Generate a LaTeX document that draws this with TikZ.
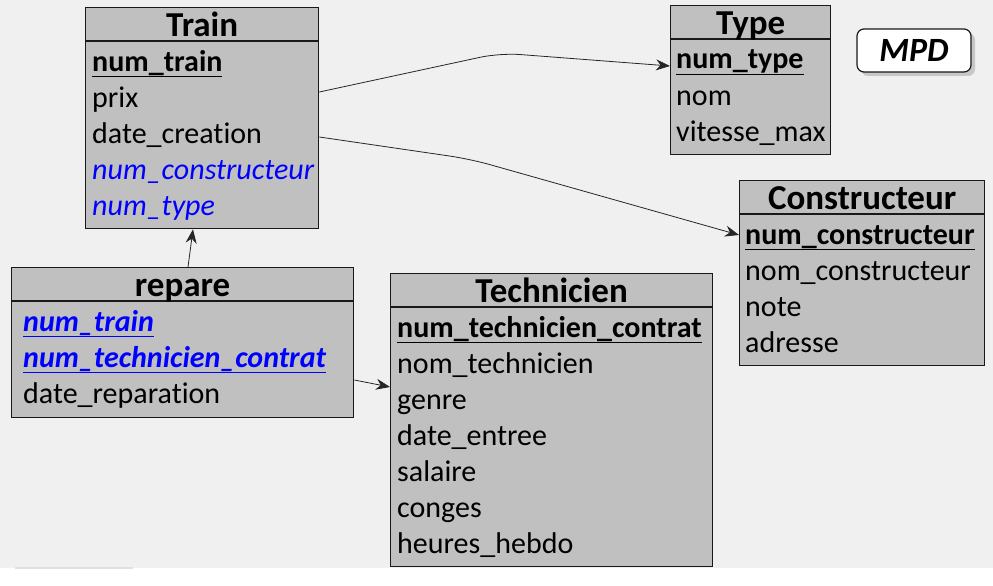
\documentclass[tikz,border=0pt]{standalone}
\usepackage{fontspec}
\setmainfont{Carlito}[Ligatures=NoCommon]
\usetikzlibrary{arrows.meta,   % arrow tips
                shadows}       % shadow of the MPD box

\definecolor{bggray}{HTML}{F0F0F0}
\definecolor{tablegray}{HTML}{C0C0C0}
\definecolor{fkblue}{HTML}{0000FF}

% primary key: text with a rule under it
\newcommand\pk[1]{\setbox0\hbox{#1}\rlap{\rule[-0.21em]{\wd0}{1.3pt}}\box0}

\tikzset{
  tablebox/.style={draw=black!90, line width=1.3pt, fill=tablegray, anchor=north west, inner sep=0pt},
  tableline/.style={draw=black!90, line width=1.3pt},
  tabletitle/.style={font=\fontsize{35}{40}\selectfont\bfseries, anchor=base, inner sep=0pt},
  field/.style={font=\fontsize{30}{36}\selectfont, anchor=base west, inner sep=0pt},
  conn/.style={-{Stealth[length=14pt,width=11pt]}, line width=0.8pt, draw=black!85},
  mpdbox/.style={draw=black!90, line width=1.2pt, fill=white, rounded corners=7pt,
                 minimum width=114pt, minimum height=43pt,
                 drop shadow={shadow xshift=4pt, shadow yshift=-4pt, fill=black!22, opacity=1},
                 font=\fontsize{34}{38}\selectfont\bfseries\itshape},
}

\begin{document}
\begin{tikzpicture}[x=1pt, y=-1pt]
        \useasboundingbox (0,0) rectangle (993,586);
        \fill[bggray] (0,0) rectangle (993,568);
        \fill[white] (0,568) rectangle (993,586);
        \fill[black!12] (15,567) rectangle (133,569);

        % tables
        \node[tablebox, minimum width=233pt, minimum height=221pt] (train) at (85,7) {};
        \draw[tableline] ([yshift=-34pt]train.north west) -- ([yshift=-34pt]train.north east);
        \node[tabletitle] (train-title) at ([yshift=-29.5pt]train.north) {Train};
        \foreach \txt [count=\i] in {{\pk{\textbf{num\_train}}}, prix, date\_creation,
                                     {\color{fkblue}\itshape num\_constructeur}, {\color{fkblue}\itshape num\_type}}
                \node[field] (train-\i) at ([xshift=7pt, yshift={(-64-36*(\i-1))*1pt}]train.north west) {\txt};

        \node[tablebox, minimum width=160pt, minimum height=149pt] (type) at (670,5) {};
        \draw[tableline] ([yshift=-34pt]type.north west) -- ([yshift=-34pt]type.north east);
        \node[tabletitle] (type-title) at ([yshift=-29.5pt]type.north) {Type};
        \foreach \txt [count=\i] in {{\pk{\textbf{num\_type}}}, nom, vitesse\_max}
                \node[field] (type-\i) at ([xshift=6pt, yshift={(-64-36*(\i-1))*1pt}]type.north west) {\txt};

        \node[tablebox, minimum width=245pt, minimum height=185pt] (constructeur) at (739,180) {};
        \draw[tableline] ([yshift=-34pt]constructeur.north west) -- ([yshift=-34pt]constructeur.north east);
        \node[tabletitle] (constructeur-title) at ([yshift=-29.5pt]constructeur.north) {Constructeur};
        \foreach \txt [count=\i] in {{\pk{\textbf{num\_constructeur}}}, nom\_constructeur, note, adresse}
                \node[field] (constructeur-\i) at ([xshift=6pt, yshift={(-64-36*(\i-1))*1pt}]constructeur.north west) {\txt};

        \node[tablebox, minimum width=342pt, minimum height=150pt] (repare) at (11,267) {};
        \draw[tableline] ([yshift=-34pt]repare.north west) -- ([yshift=-34pt]repare.north east);
        \node[tabletitle] (repare-title) at ([yshift=-29.5pt]repare.north) {repare};
        \foreach \txt [count=\i] in {{\color{fkblue}\pk{\bfseries\itshape num\_train}},
                                     {\color{fkblue}\pk{\bfseries\itshape num\_technicien\_contrat}}, date\_reparation}
                \node[field] (repare-\i) at ([xshift=12pt, yshift={(-64-36*(\i-1))*1pt}]repare.north west) {\txt};

        \node[tablebox, minimum width=322pt, minimum height=293pt] (technicien) at (390,273) {};
        \draw[tableline] ([yshift=-34pt]technicien.north west) -- ([yshift=-34pt]technicien.north east);
        \node[tabletitle] (technicien-title) at ([yshift=-29.5pt]technicien.north) {Technicien};
        \foreach \txt [count=\i] in {{\pk{\textbf{num\_technicien\_contrat}}}, nom\_technicien, genre,
                                     date\_entree, salaire, conges, heures\_hebdo}
                \node[field] (technicien-\i) at ([xshift=7pt, yshift={(-64-36*(\i-1))*1pt}]technicien.north west) {\txt};

        \node[mpdbox] (mpd) at (914,50.5) {MPD};

        % links
        \draw[conn, rounded corners=20pt] ([yshift=-85pt]train.north east) -- (500,53) -- ([yshift=-61pt]type.north west);
        \draw[conn, rounded corners=20pt] ([yshift=-130pt]train.north east) -- (470,159) -- ([yshift=-55pt]constructeur.north west);
        \draw[conn] ([xshift=177pt]repare.north west) -- ([xshift=108pt]train.south west);
        \draw[conn] ([yshift=-113pt]repare.north east) -- ([yshift=-114pt]technicien.north west);

\end{tikzpicture}
\end{document}
